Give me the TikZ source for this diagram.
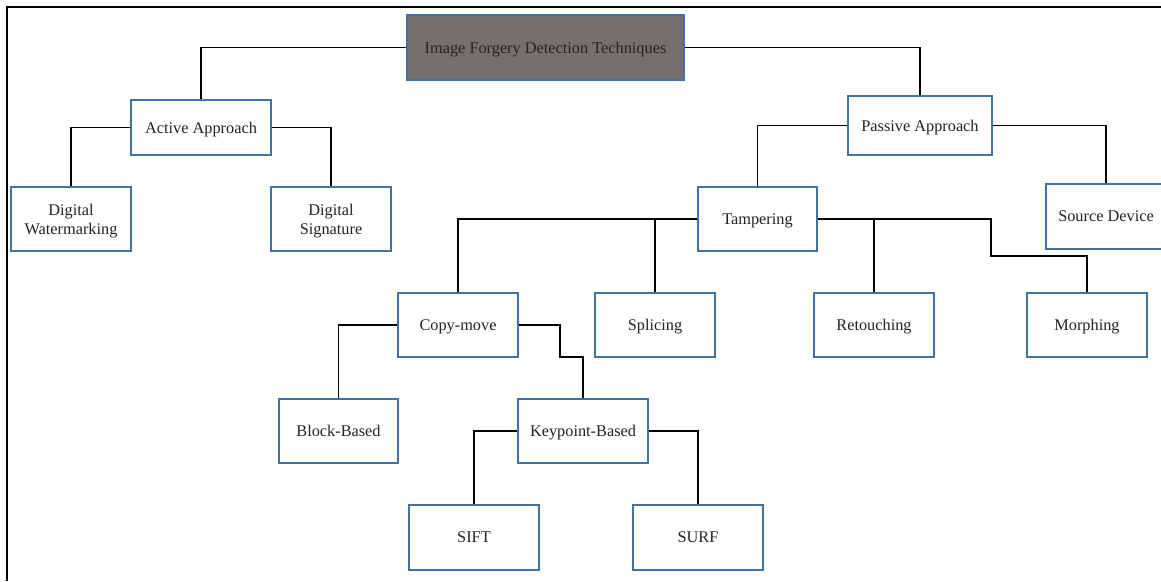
\documentclass[tikz,border=0pt]{standalone}
\usepackage{fontspec}
\setmainfont{Liberation Serif}
\usepackage{xcolor}
\definecolor{boxblue}{RGB}{65,113,156}
\definecolor{rootgray}{RGB}{116,112,110}
\definecolor{inkdark}{RGB}{35,35,35}
\tikzset{
  leaf/.style={draw=boxblue,fill=white,line width=1.4pt,
    minimum width=120pt,minimum height=64pt,inner sep=0pt,text depth=-1pt,
    align=center,font=\fontsize{16.3}{19}\selectfont,text=inkdark},
  rootbox/.style={leaf,fill=rootgray,minimum width=277pt,minimum height=65pt},
  link/.style={draw=black,line width=1.7pt},
  frameline/.style={draw=black,line width=2pt}
}

\begin{document}
\begin{tikzpicture}[x=1pt,y=-1pt]
  \clip (0,0) rectangle (1161,581);
  \path[fill=white] (0,0) rectangle (1161,581);
  \draw[frameline] (1161,7) -- (7,7) -- (7,581);

  \node[rootbox] (root) at (545.5,47.5) {Image Forgery Detection Techniques};

  \node[leaf,minimum width=140pt,minimum height=55pt] (active) at (201,127.5) {Active Approach};
  \node[leaf] (water) at (71,219) {Digital\\Watermarking};
  \node[leaf] (sign) at (331,219) {Digital\\Signature};

  \node[leaf,minimum width=144pt,minimum height=59pt] (passive) at (920,125.5) {Passive Approach};
  \node[leaf,minimum width=119pt] (tamper) at (757.5,219) {Tampering};
  \node[leaf,minimum height=65pt] (source) at (1106,216.5) {Source Device};

  \node[leaf] (copy) at (458,325) {Copy-move};
  \node[leaf] (splice) at (655,325) {Splicing};
  \node[leaf] (retouch) at (874,325) {Retouching};
  \node[leaf] (morph) at (1087,325) {Morphing};

  \node[leaf,minimum width=119pt] (block) at (338.5,431) {Block-Based};
  \node[leaf,minimum width=130pt] (keypt) at (583,431) {Keypoint-Based};

  \node[leaf,minimum width=130pt,minimum height=65pt] (sift) at (474,537.5) {SIFT};
  \node[leaf,minimum width=130pt,minimum height=65pt] (surf) at (698,537.5) {SURF};

  \coordinate (mbend) at (991,256);
  \coordinate (kbend) at (560,357);

  \draw[link] (root.west) -| (active.north);
  \draw[link] (root.east) -| (passive.north);
  \draw[link] (active.west) -| (water.north);
  \draw[link] (active.east) -| (sign.north);
  \draw[link] (passive.west) -| (tamper.north);
  \draw[link] (passive.east) -| (source.north);
  \draw[link] (tamper.west) -| (copy.north);
  \draw[link] (splice.north) -- (splice.north |- tamper.west);
  \draw[link] (tamper.east) -| (mbend) -| (morph.north);
  \draw[link] (retouch.north) -- (retouch.north |- tamper.east);
  \draw[link] (copy.west) -| (block.north);
  \draw[link] (copy.east) -| (kbend) -| (keypt.north);
  \draw[link] (keypt.west) -| (sift.north);
  \draw[link] (keypt.east) -| (surf.north);
\end{tikzpicture}
\end{document}
